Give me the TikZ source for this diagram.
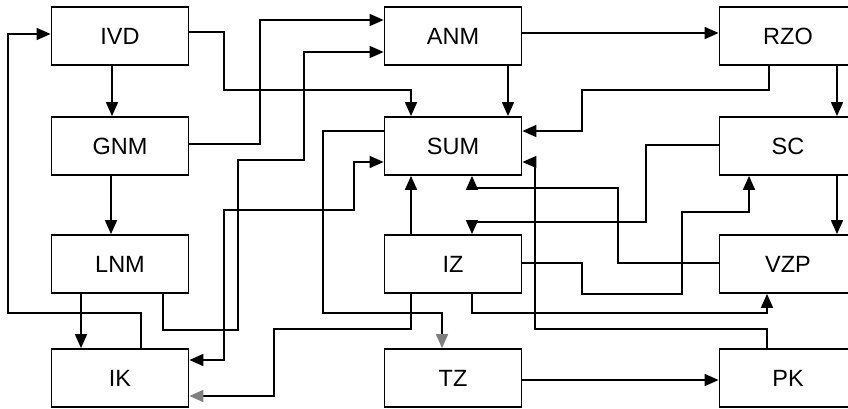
\documentclass[tikz,border=0pt]{standalone}
\usepackage{fontspec}
\setmainfont{Liberation Sans}
\usetikzlibrary{arrows.meta,positioning}

\begin{document}
\begin{tikzpicture}[x=1pt, y=1pt,
    blk/.style={rectangle, draw, line width=1.8pt, minimum width=137pt,
                minimum height=58pt, inner sep=0pt, font=\fontsize{23.5}{27}\selectfont},
    arr/.style={-{Triangle[length=14pt,width=12pt]}, line width=1.7pt},
    garr/.style={-{Triangle[length=14pt,width=12pt,color=gray]}, line width=1.7pt},
    twoway/.style={{Triangle[length=14pt,width=12pt]}-{Triangle[length=14pt,width=12pt]},
                   line width=1.7pt}]

    \clip (0,0) rectangle (848,408);
    \fill[white] (0,0) rectangle (848,408);

    % Left column
    \node[blk] (IVD) at (120,372) {IVD};
    \node[blk] (GNM) at (120,262) {GNM};
    \node[blk] (LNM) at (120,144) {LNM};
    \node[blk] (IK)  at (120,30)  {IK};

    % Middle column
    \node[blk] (ANM) at (453,372) {ANM};
    \node[blk] (SUM) at (453,262) {SUM};
    \node[blk] (IZ)  at (453,144) {IZ};
    \node[blk] (TZ)  at (453,30)  {TZ};

    % Right column
    \node[blk] (RZO) at (788,372) {RZO};
    \node[blk] (SC)  at (788,262) {SC};
    \node[blk] (VZP) at (788,144) {VZP};
    \node[blk] (PK)  at (788,30)  {PK};

    % Straight links
    \draw[arr] ([xshift=-8pt]IVD.south) -- ([xshift=-8pt]GNM.north);
    \draw[arr] ([xshift=-9pt]GNM.south) -- ([xshift=-9pt]LNM.north);
    \draw[arr] ([xshift=-39pt]LNM.south) -- ([xshift=-39pt]IK.north);
    \draw[arr] ([yshift=3pt]ANM.east) -- ([yshift=3pt]RZO.west);
    \draw[arr] ([xshift=55pt]ANM.south) -- ([xshift=55pt]SUM.north);
    \draw[arr] ([xshift=49pt]RZO.south) -- ([xshift=49pt]SC.north);
    \draw[arr] ([xshift=49pt]SC.south) -- ([xshift=49pt]VZP.north);
    \draw[arr] ([xshift=-42pt]IZ.north) -- ([xshift=-42pt]SUM.south);
    \draw[arr] ([yshift=-2pt]TZ.east) -- ([yshift=-2pt]PK.west);

    % Feedback and cross links
    \draw[arr] ([xshift=21pt]IK.north) |- (8,95) |- ([yshift=2pt]IVD.west);
    \draw[arr] ([yshift=4pt]IVD.east) -| (224,318) -| ([xshift=-42pt]SUM.north);
    \draw[arr] ([yshift=2pt]GNM.east) -| (260,388) -- ([yshift=16pt]ANM.west);
    \draw[arr] ([xshift=43pt]LNM.south) |- (238,78) |- (304,248)
               |- ([yshift=-16pt]ANM.west);
    \draw[arr] ([xshift=-19pt]RZO.south) |- (582,318) |- ([yshift=15pt]SUM.east);
    \draw[arr] ([yshift=1pt]SC.west) -| (646,186) -| ([xshift=19pt]IZ.north);
    \draw[arr] ([yshift=1pt]VZP.west) -| (618,220) -| ([xshift=19pt]SUM.south);
    \draw[arr] ([yshift=1pt]IZ.east) -| (582,114) -| (682,196)
               -| ([xshift=-39pt]SC.south);
    \draw[arr] ([xshift=19pt]IZ.south) |- (767,95) -- ([xshift=-21pt]VZP.south);
    \draw[arr] ([xshift=-21pt]PK.north) |- (535,79) |- ([yshift=-16pt]SUM.east);
    \draw[garr] ([xshift=-42pt]IZ.south) |- (274,79) |- ([yshift=-18pt]IK.east);
    \draw[garr] ([yshift=15pt]SUM.west) -| (323,95) -| ([xshift=-11pt]TZ.north);
    \draw[twoway] ([yshift=18pt]IK.east) -| (224,198) -| (354,246)
                  -- ([yshift=-16pt]SUM.west);

\end{tikzpicture}
\end{document}
